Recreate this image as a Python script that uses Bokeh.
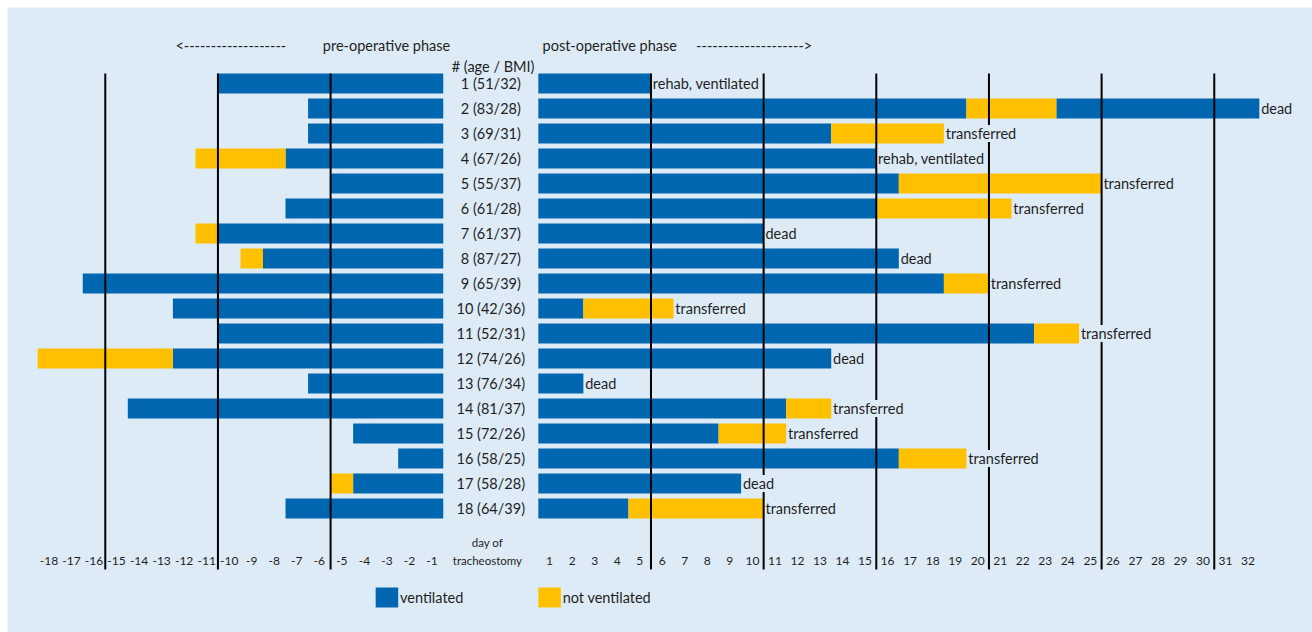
from bokeh.plotting import figure
from bokeh.models import Range1d, ColumnDataSource
from bokeh.core.properties import value
from bokeh.embed import file_html
from bokeh.resources import INLINE

# ---------------- data ----------------
patients = ["1 (51/32)", "2 (83/28)", "3 (69/31)", "4 (67/26)", "5 (55/37)", "6 (61/28)",
            "7 (61/37)", "8 (87/27)", "9 (65/39)", "10 (42/36)", "11 (52/31)", "12 (74/26)",
            "13 (76/34)", "14 (81/37)", "15 (72/26)", "16 (58/25)", "17 (58/28)", "18 (64/39)"]
# pre-operative phase (days before tracheostomy)
pre_ventilated = [10, 6, 6, 7, 5, 7, 10, 8, 16, 12, 10, 12, 6, 14, 4, 2, 4, 7]
pre_not_ventilated = [0, 0, 0, 4, 0, 0, 1, 1, 0, 0, 0, 6, 0, 0, 0, 0, 1, 0]
# post-operative phase (days after tracheostomy)
post_ventilated_1 = [5, 19, 13, 15, 16, 15, 10, 16, 18, 2, 22, 13, 2, 11, 8, 16, 9, 4]
post_not_ventilated = [0, 4, 5, 0, 9, 6, 0, 0, 2, 4, 2, 0, 0, 2, 3, 3, 0, 6]
post_ventilated_2 = [0, 9, 0, 0, 0, 0, 0, 0, 0, 0, 0, 0, 0, 0, 0, 0, 0, 0]
outcome = ["rehab, ventilated", "dead", "transferred", "rehab, ventilated", "transferred",
           "transferred", "dead", "dead", "transferred", "transferred", "transferred", "dead",
           "dead", "transferred", "transferred", "transferred", "dead", "transferred"]
pre_days = list(range(-18, 0))
post_days = list(range(1, 33))
pre_lines = [-5, -10, -15]
post_lines = [5, 10, 15, 20, 25, 30]

# ---------------- styling / layout ----------------
BLUE = "#0066B0"
YELLOW = "#FFC000"
BG = "#DDEBF7"
TXT = "#1F1F1F"
FONT = value("Lato")
FS = "14.5px"
GAP = 4.22  # blank column between pre- and post-operative phase (row labels)

W, H = 1312, 632
p = figure(width=W, height=H, output_backend="svg", toolbar_location=None,
           x_range=Range1d(-19.34, 38.58), y_range=Range1d(22.96, -2.04),
           x_axis_type=None, y_axis_type=None, min_border=0,
           min_border_left=7, min_border_top=7)
p.grid.visible = False
p.outline_line_color = None
p.background_fill_color = BG
p.border_fill_color = "white"

# bars
segs = dict(y=[], left=[], right=[], color=[])
def add(y, l, r, c):
    if r > l:
        segs["y"].append(y); segs["left"].append(l); segs["right"].append(r); segs["color"].append(c)

ends = []
for i in range(len(patients)):
    y = i + 1
    add(y, -pre_ventilated[i], 0, BLUE)
    add(y, -(pre_ventilated[i] + pre_not_ventilated[i]), -pre_ventilated[i], YELLOW)
    a = GAP
    b = a + post_ventilated_1[i]
    c = b + post_not_ventilated[i]
    d = c + post_ventilated_2[i]
    add(y, a, b, BLUE)
    add(y, b, c, YELLOW)
    add(y, c, d, BLUE)
    ends.append(d)

p.hbar(y="y", left="left", right="right", height=0.8, fill_color="color", line_color=None,
       source=ColumnDataSource(segs))

# vertical lines every 5 days
vx = pre_lines + [GAP + v for v in post_lines]
p.segment(x0=vx, y0=[0.6] * len(vx), x1=vx, y1=[20.44] * len(vx), line_color="black", line_width=2)

# outcome labels
p.text(x=[e + 0.08 for e in ends], y=list(range(1, len(patients) + 1)), text=outcome,
       text_font=FONT, text_font_size=FS, text_color=TXT, text_align="left",
       text_baseline="middle", background_fill_color=BG)

# row labels
p.text(x=[GAP / 2] * len(patients), y=list(range(1, len(patients) + 1)), text=patients,
       text_font=FONT, text_font_size=FS, text_color=TXT, text_align="center",
       text_baseline="middle")
p.text(x=[GAP / 2 + 0.1], y=[0.32], text=["# (age / BMI)"], text_font=FONT,
       text_font_size=FS, text_color=TXT, text_align="center", text_baseline="middle")

# header
p.text(x=[-9.43, -2.52, 7.39, 13.8], y=[-0.52] * 4,
       text=["<-------------------", "pre-operative phase", "post-operative phase", "-------------------->"],
       text_font=FONT, text_font_size=FS, text_color=TXT, text_align="center",
       text_baseline="middle")

# day tick labels
tx = [d + 0.5 for d in pre_days] + [GAP + d - 0.5 for d in post_days]
tl = [str(d) for d in pre_days] + [str(d) for d in post_days]
p.text(x=tx, y=[20.08] * len(tx), text=tl, text_font=FONT, text_font_size="12px",
       text_color=TXT, text_align="center", text_baseline="middle")
p.text(x=[GAP / 2 - 0.15] * 2, y=[19.36, 20.08], text=["day of", "tracheostomy"], text_font=FONT,
       text_font_size="11.5px", text_color=TXT, text_align="center", text_baseline="middle")

# legend
p.rect(x=[-2.5, GAP + 0.5], y=[21.56, 21.56], width=1.0, height=0.8,
       fill_color=[BLUE, YELLOW], line_color=None)
p.text(x=[-1.92, GAP + 1.08], y=[21.56, 21.56], text=["ventilated", "not ventilated"],
       text_font=FONT, text_font_size=FS, text_color=TXT, text_align="left",
       text_baseline="middle")

open("out.html", "w").write(file_html(p, INLINE))
